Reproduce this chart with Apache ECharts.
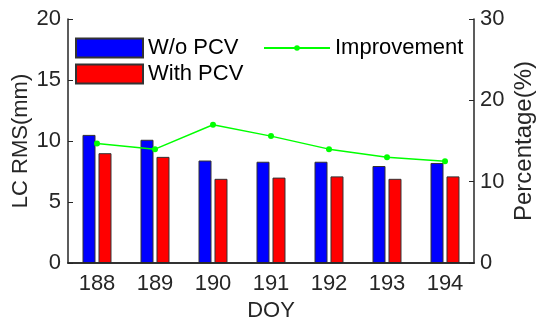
<!DOCTYPE html>
<html>
<head>
<meta charset="utf-8">
<script src="https://cdn.jsdelivr.net/npm/echarts@6/dist/echarts.min.js"></script>
<style>html,body{margin:0;padding:0;background:#fff}#c{width:537px;height:320px}</style>
</head>
<body>
<div id="c"></div>
<script>
var categories = ['188','189','190','191','192','193','194'];
var woPCV = [10.5, 10.1, 8.4, 8.3, 8.3, 7.95, 8.2];
var withPCV = [9.0, 8.7, 6.9, 7.0, 7.1, 6.9, 7.1];
var improvement = [14.7, 14.0, 17.0, 15.6, 14.0, 13.0, 12.5];
var leftTicks = [0, 5, 10, 15, 20];
var rightTicks = [0, 10, 20, 30];

var FONT = 'Liberation Sans, Arial, sans-serif';
var TXT = '#262626';
var chart = echarts.init(document.getElementById('c'), null, {renderer: 'canvas'});
chart.setOption({
  animation: false,
  textStyle: {fontFamily: FONT},
  grid: {left: 68, top: 19, width: 406, height: 244, containLabel: false, outerBoundsMode: 'none'},
  legend: [{
    data: [{name: 'W/o PCV', icon: 'rect'}, {name: 'With PCV', icon: 'rect'}],
    orient: 'vertical',
    left: 75, top: 37, padding: 0,
    itemWidth: 67, itemHeight: 19, itemGap: 4,
    textStyle: {fontSize: 22, color: '#000', fontFamily: FONT}
  }, {
    data: ['Improvement'],
    left: 263, top: 37, padding: 0,
    itemWidth: 66, itemHeight: 7,
    textStyle: {fontSize: 22, color: '#000', fontFamily: FONT}
  }],
  xAxis: [{
    type: 'category', data: categories, position: 'bottom',
    name: 'DOY', nameLocation: 'middle', nameGap: 36,
    nameTextStyle: {fontSize: 22, color: TXT, fontFamily: FONT},
    axisLine: {lineStyle: {color: TXT, width: 1.5}},
    axisTick: {inside: true, alignWithLabel: true, length: 5, lineStyle: {color: TXT}},
    axisLabel: {fontSize: 22, color: TXT, margin: 10, fontFamily: FONT},
    z: 10
  }, {
    type: 'category', data: categories, position: 'top',
    axisLine: {lineStyle: {color: TXT, width: 1.5}},
    axisTick: {inside: true, alignWithLabel: true, length: 5, lineStyle: {color: TXT}},
    axisLabel: {show: false}
  }],
  yAxis: [{
    type: 'value', min: 0, max: 20, interval: 5, position: 'left',
    name: 'LC RMS(mm)', nameLocation: 'middle', nameGap: 36, nameRotate: 90,
    nameMoveOverlap: false,
    nameTextStyle: {fontSize: 22, color: TXT, fontFamily: FONT},
    axisLine: {show: true, lineStyle: {color: TXT, width: 1.5}},
    axisTick: {show: true, inside: true, length: 5, lineStyle: {color: TXT}},
    axisLabel: {fontSize: 22, color: TXT, margin: 7, fontFamily: FONT},
    splitLine: {show: false}
  }, {
    type: 'value', min: 0, max: 30, interval: 10, position: 'right',
    name: 'Percentage(%)', nameLocation: 'middle', nameGap: 38, nameRotate: 90,
    nameMoveOverlap: false,
    nameTextStyle: {fontSize: 24, color: TXT, fontFamily: FONT},
    axisLine: {show: true, lineStyle: {color: TXT, width: 1.5}},
    axisTick: {show: true, inside: true, length: 5, lineStyle: {color: TXT}},
    axisLabel: {fontSize: 22, color: TXT, margin: 6, fontFamily: FONT},
    splitLine: {show: false}
  }],
  series: [{
    name: 'W/o PCV', type: 'bar', data: woPCV, xAxisIndex: 0, yAxisIndex: 0,
    barWidth: 13, barGap: '23%',
    itemStyle: {color: '#0000ff', borderColor: '#333', borderWidth: 1}
  }, {
    name: 'With PCV', type: 'bar', data: withPCV, xAxisIndex: 0, yAxisIndex: 0,
    barWidth: 13, barGap: '23%',
    itemStyle: {color: '#ff0000', borderColor: '#333', borderWidth: 1}
  }, {
    name: 'Improvement', type: 'line', data: improvement, xAxisIndex: 0, yAxisIndex: 1,
    symbol: 'circle', symbolSize: 6, showSymbol: true,
    lineStyle: {color: '#00ff00', width: 1.5},
    itemStyle: {color: '#00ff00'},
    z: 5
  }]
});
</script>
</body>
</html>
